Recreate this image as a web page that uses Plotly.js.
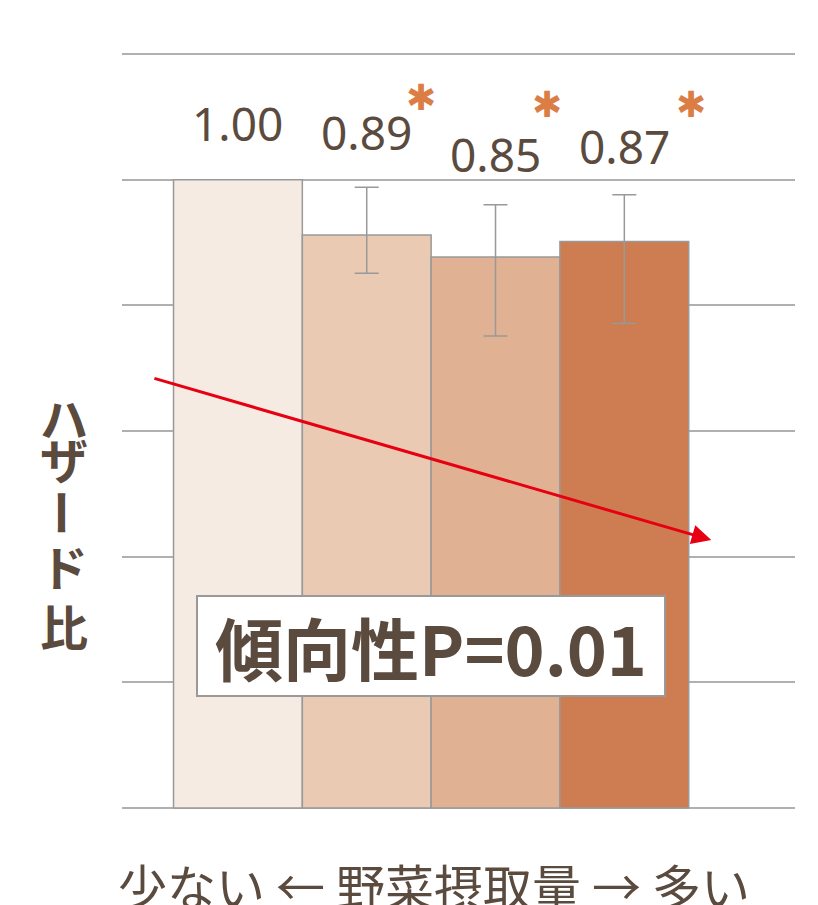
<!DOCTYPE html>
<html>
<head>
<meta charset="utf-8">
<script src="https://cdn.plot.ly/plotly-3.0.1.min.js"></script>
<style>
html,body{margin:0;padding:0;background:#fff;}
#chart{width:818px;height:905px;}
</style>
</head>
<body>
<div id="chart"></div>
<script>
// ---- data ----
const groups = [0, 1, 2, 3];
const hazardLabels = ['1.00', '0.89', '0.85', '0.87'];
const hazardDrawn = [1.00, 0.89, 0.846, 0.877];
const ciUpper = [null, 0.985, 0.950, 0.970];
const ciLower = [null, 0.814, 0.689, 0.714];
const significant = [false, true, true, true];
const trendText = '傾向性P=0.01';
const yTitleChars = ['ハ', 'ザ', 'ー', 'ド', '比'];
const xTitle = '少ない ← 野菜摂取量 → 多い';

// ---- style / layout ----
const barColors = ['#F6EBE2', '#EACAB3', '#E0B193', '#CD7D51'];
const axisBottom = -0.25;
const textColor = '#5B4A3E';
const labelY = [1.113, 1.095, 1.052, 1.067];
const starPos = [null, [1.42, 1.163], [2.40, 1.149], [3.52, 1.149]];

const bars = {
  type: 'bar',
  x: groups,
  y: hazardDrawn.map(v => v - axisBottom),
  base: axisBottom,
  width: 1,
  marker: {color: barColors, line: {color: '#999999', width: 1.5}},
  hoverinfo: 'skip'
};

const errX = [], errY = [], errPlus = [], errMinus = [];
groups.forEach((g, i) => {
  if (ciUpper[i] !== null) {
    errX.push(g); errY.push(hazardDrawn[i]);
    errPlus.push(ciUpper[i] - hazardDrawn[i]);
    errMinus.push(hazardDrawn[i] - ciLower[i]);
  }
});
const errs = {
  type: 'scatter', mode: 'markers',
  x: errX, y: errY,
  marker: {size: 1, opacity: 0},
  error_y: {type: 'data', symmetric: false, array: errPlus, arrayminus: errMinus,
            color: '#999999', thickness: 1.5, width: 12},
  hoverinfo: 'skip'
};

const annotations = [];
hazardLabels.forEach((t, i) => {
  annotations.push({x: groups[i], y: labelY[i], xref: 'x', yref: 'y', text: t, showarrow: false,
    font: {family: 'Noto Sans, sans-serif', size: 46, color: textColor}});
  if (significant[i]) {
    annotations.push({x: starPos[i][0], y: starPos[i][1], xref: 'x', yref: 'y', text: '✱', showarrow: false,
      font: {family: 'DejaVu Sans, sans-serif', size: 36, color: '#DB7D45'}});
  }
});
// trend arrow
annotations.push({x: 3.675, y: 0.283, xref: 'x', yref: 'y', ax: -0.66, ay: 0.6055, axref: 'x', ayref: 'y',
  text: '', showarrow: true, arrowhead: 2, arrowsize: 1.3, arrowwidth: 3, arrowcolor: '#E60012'});
// trend box
annotations.push({x: 1.5, y: 0.072, xref: 'x', yref: 'y', text: '<b>' + trendText + '</b>', showarrow: false,
  font: {family: 'Noto Sans CJK JP, sans-serif', size: 68, color: textColor},
  bgcolor: '#ffffff', bordercolor: '#999999', borderwidth: 2, width: 464, height: 96});
// y title (vertical)
const yCenters = [0.5196, 0.4647, 0.3927, 0.3246, 0.2461];
yTitleChars.forEach((c, i) => {
  annotations.push({x: -0.086, y: yCenters[i], xref: 'paper', yref: 'paper', xanchor: 'center', yanchor: 'middle',
    text: '<b>' + c + '</b>', showarrow: false, textangle: c === 'ー' ? 90 : 0,
    font: {family: 'Noto Sans CJK JP, sans-serif', size: 48, color: textColor}});
});
// x title
annotations.push({x: 0.463, y: -0.093, xref: 'paper', yref: 'paper', xanchor: 'center', yanchor: 'middle',
  text: xTitle, showarrow: false,
  font: {family: 'Noto Sans CJK JP, sans-serif', size: 49, color: textColor}});

const layout = {
  width: 818, height: 905,
  margin: {l: 122, r: 23, t: 49, b: 92},
  paper_bgcolor: '#ffffff', plot_bgcolor: '#ffffff',
  showlegend: false,
  bargap: 0,
  xaxis: {range: [-0.9, 4.325], showgrid: false, zeroline: false, showticklabels: false, ticks: '', fixedrange: true},
  yaxis: {range: [-0.26, 1.26], tick0: -0.25, dtick: 0.25, showgrid: true, gridcolor: '#B0B0B0', gridwidth: 2,
          zeroline: false, showticklabels: false, ticks: '', fixedrange: true},
  annotations: annotations
};

Plotly.newPlot('chart', [bars, errs], layout, {staticPlot: true, displayModeBar: false});
</script>
</body>
</html>
